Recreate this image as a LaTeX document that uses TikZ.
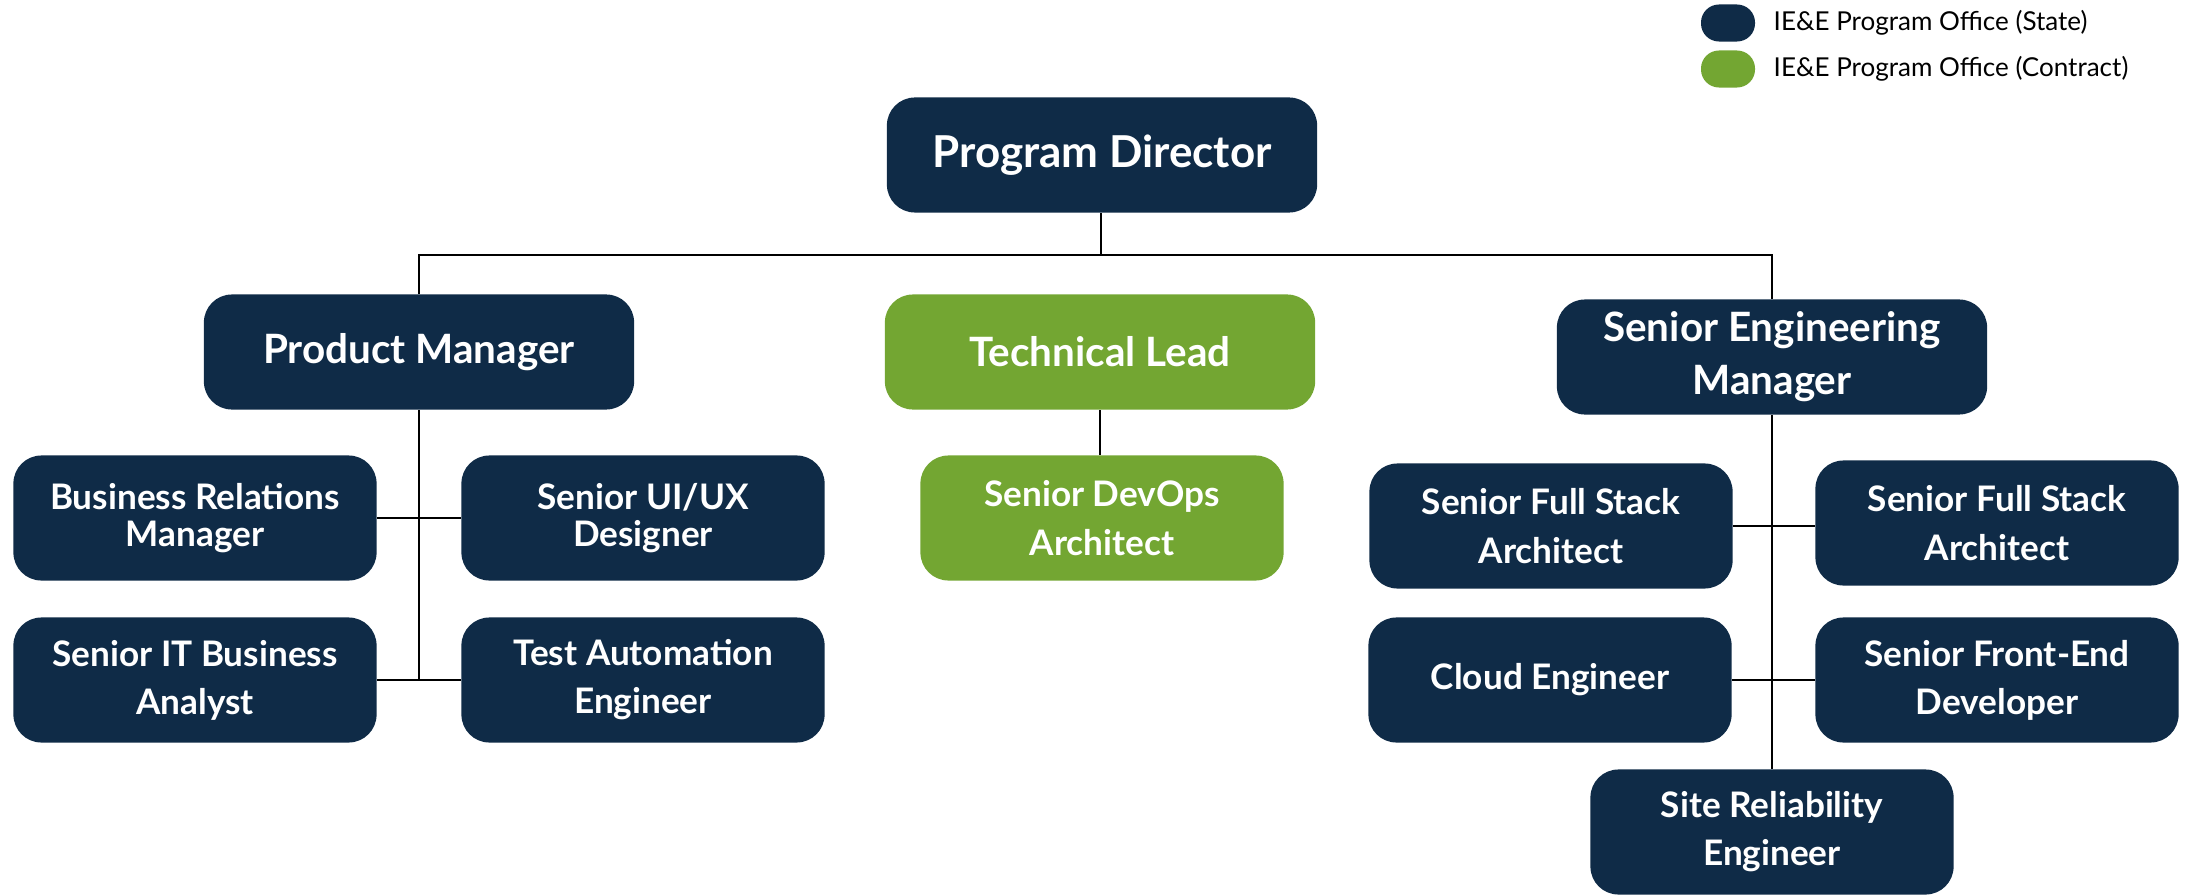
\documentclass[tikz,border=0pt]{standalone}
\usepackage{fontspec}
\setmainfont{Lato}
\definecolor{stateblue}{RGB}{15,43,71}
\definecolor{contractgreen}{RGB}{115,166,50}

\begin{document}
\begin{tikzpicture}[x=0.01cm,y=-0.01cm]
  \tikzstyle{role}=[fill=stateblue, rounded corners=0.28cm, text=white, align=center, inner sep=0pt]
  \tikzstyle{contract}=[fill=contractgreen]
  \tikzstyle{toprole}=[role, minimum width=4.3cm, minimum height=1.15cm, font=\fontsize{11.5}{15}\selectfont\bfseries]
  \tikzstyle{subrole}=[role, minimum width=3.63cm, minimum height=1.25cm, font=\fontsize{10}{13.7}\selectfont\bfseries]
  \tikzstyle{keybox}=[role, rounded corners=0.18cm, minimum width=0.54cm, minimum height=0.37cm]
  \tikzstyle{keytext}=[anchor=west, inner sep=0pt, font=\fontsize{7.4}{9}\selectfont]
  \tikzstyle{link}=[line width=0.8pt]
  \useasboundingbox (0,0) rectangle (2185,894);

  % legend
  \node[keybox] (keystate) at (1728,23) {};
  \node[keytext] (keystatetext) at (1773,23) {IE\&E Program Office (State)};
  \node[keybox, contract] (keycontract) at (1728,69) {};
  \node[keytext] (keycontracttext) at (1773,69) {IE\&E Program Office (Contract)};

  % top levels
  \node[toprole, font=\fontsize{12.5}{15}\selectfont\bfseries] (dir) at (1102,155) {Program Director};
  \node[toprole] (pm) at (419,352) {Product Manager};
  \node[toprole, contract] (tl) at (1100,352) {Technical Lead};
  \node[toprole] (sem) at (1772,357) {Senior Engineering\\Manager};

  % product side
  \node[subrole, font=\fontsize{10}{10.3}\selectfont\bfseries] (brm) at (195,518) {Business Relations\\Manager};
  \node[subrole, font=\fontsize{10}{10.3}\selectfont\bfseries] (uiux) at (643,518) {Senior UI/UX\\Designer};
  \node[subrole] (itba) at (195,680) {Senior IT Business\\Analyst};
  \node[subrole] (tae) at (643,680) {Test Automation\\Engineer};

  % technical side
  \node[subrole, contract, font=\fontsize{10}{14}\selectfont\bfseries] (devops) at (1102,518) {Senior DevOps\\Architect};

  % engineering side
  \node[subrole] (fsa1) at (1551,526) {Senior Full Stack\\Architect};
  \node[subrole] (fsa2) at (1997,523) {Senior Full Stack\\Architect};
  \node[subrole] (cloud) at (1550,680) {Cloud Engineer};
  \node[subrole] (fed) at (1997,680) {Senior Front-End\\Developer};
  \node[subrole] (sre) at (1772,832) {Site Reliability\\Engineer};

  % connectors
  \coordinate (bus) at (1101,255);
  \draw[link] (dir.south -| bus) -- (bus);
  \draw[link] (pm.north) |- (bus) -| (sem.north);
  \draw[link] (tl.south) -- (tl.south |- devops.north);
  \draw[link] (pm.south) -- (pm.south |- itba.east);
  \draw[link] (brm.east) -- (uiux.west);
  \draw[link] (itba.east) -- (tae.west);
  \draw[link] (sem.south) -- (sem.south |- sre.north);
  \draw[link] (fsa1.east) -- (fsa1.east -| fsa2.west);
  \draw[link] (cloud.east) -- (fed.west);
\end{tikzpicture}
\end{document}
